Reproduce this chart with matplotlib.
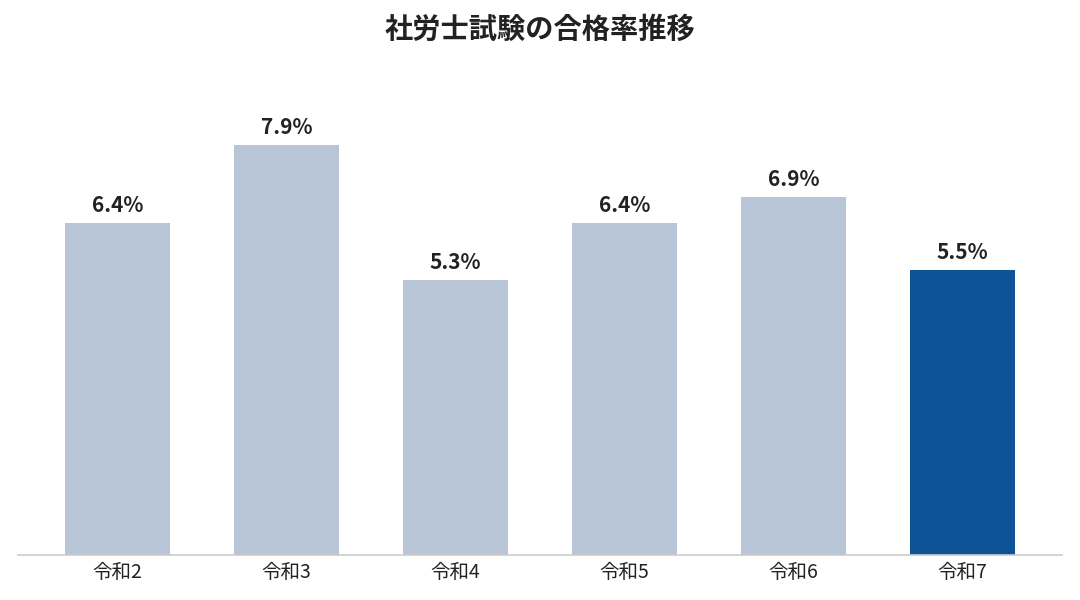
import matplotlib
matplotlib.use("Agg")
from matplotlib import pyplot as plt

plt.rcParams['font.family'] = ['Noto Sans CJK JP', 'DejaVu Sans']

# Data
years = ["令和2", "令和3", "令和4", "令和5", "令和6", "令和7"]
pass_rates = [6.4, 7.9, 5.3, 6.4, 6.9, 5.5]
bar_colors = ["#B8C5D6"] * 5 + ["#0D5396"]

fig = plt.figure(figsize=(10.8, 6), dpi=100)
ax = fig.add_axes([18 / 1080, 45 / 600, 1044 / 1080, 474 / 600])

x = range(len(years))
ax.bar(x, pass_rates, width=0.62, color=bar_colors, zorder=2)

for i, v in enumerate(pass_rates):
    ax.annotate(f"{v}%", (i, v), xytext=(0, 5), textcoords="offset points",
                ha="center", va="bottom", fontsize=15, fontweight="bold",
                color="#222222")

ax.set_xlim(-0.589, len(years) - 1 + 0.589)
ax.set_ylim(0, 474 / 51.9)
ax.set_xticks(list(x))
ax.set_xticklabels(years, fontsize=14, color="#222222")
ax.tick_params(axis="x", length=0, pad=5)
ax.set_yticks([])
for side in ["top", "right", "left"]:
    ax.spines[side].set_visible(False)
ax.spines["bottom"].set_color("#CCCCCC")
ax.spines["bottom"].set_linewidth(1.2)

fig.text(0.5, 1 - 30 / 600, "社労士試験の合格率推移", ha="center", va="center",
         fontsize=20.3, fontweight="bold", color="#222222")

fig.savefig("out.png", dpi=100)
